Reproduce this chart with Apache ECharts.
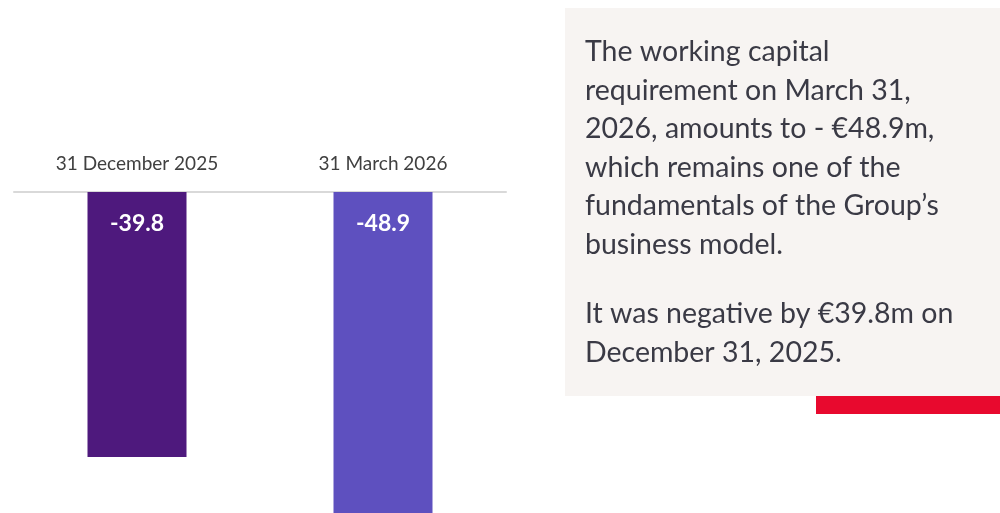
<!DOCTYPE html>
<html>
<head>
<meta charset="utf-8">
<script src="https://cdn.jsdelivr.net/npm/echarts@6/dist/echarts.min.js"></script>
<style>
  html, body { margin: 0; padding: 0; background: #ffffff; }
  #chart { width: 1000px; height: 513px; }
</style>
</head>
<body>
<div id="chart"></div>
<script>
// Working capital requirement (€m) at two closing dates
const categories = ['31 December 2025', '31 March 2026'];
const values = [-39.8, -48.9];
const barColors = ['#4E197D', '#5E50BF'];

const commentLines = [
  'The working capital',
  'requirement on March 31,',
  '2026, amounts to - €48.9m,',
  'which remains one of the',
  'fundamentals of the Group’s',
  'business model.'
];
const commentLines2 = [
  'It was negative by €39.8m on',
  'December 31, 2025.'
];

const FONT = 'Lato, "Noto Sans", sans-serif';

const chart = echarts.init(document.getElementById('chart'), null, { renderer: 'canvas' });

chart.setOption({
  animation: false,
  backgroundColor: '#ffffff',
  grid: { left: 14, top: 192, width: 492, bottom: 0, containLabel: false },
  xAxis: {
    type: 'category',
    position: 'top',
    data: categories,
    axisLine: { show: true, onZero: false, lineStyle: { color: '#D9D9D9', width: 2 } },
    axisTick: { show: false },
    axisLabel: { color: '#404040', fontFamily: FONT, fontSize: 19, margin: 19 },
    splitLine: { show: false }
  },
  yAxis: {
    type: 'value',
    min: -48.2,
    max: 0,
    show: false,
    splitLine: { show: false }
  },
  series: [{
    type: 'bar',
    barWidth: 99,
    clip: true,
    data: values.map((v, i) => ({ value: v, itemStyle: { color: barColors[i] } })),
    label: {
      show: true,
      position: 'insideTop',
      distance: 20,
      color: '#ffffff',
      fontFamily: FONT,
      fontWeight: 'bold',
      fontSize: 23,
      formatter: p => p.value.toFixed(1)
    }
  }],
  graphic: [
    {
      type: 'rect',
      shape: { x: 565, y: 8, width: 435, height: 388 },
      style: { fill: '#F7F4F2' },
      silent: true
    },
    {
      type: 'rect',
      shape: { x: 816, y: 396, width: 184, height: 18 },
      style: { fill: '#E8092E' },
      silent: true
    },
    {
      type: 'text',
      x: 585,
      y: 33,
      style: {
        text: commentLines.join('\n'),
        fill: '#3A3A45',
        font: '28.5px ' + FONT,
        lineHeight: 38.5
      },
      silent: true
    },
    {
      type: 'text',
      x: 585,
      y: 295,
      style: {
        text: commentLines2.join('\n'),
        fill: '#3A3A45',
        font: '28.5px ' + FONT,
        lineHeight: 38.5
      },
      silent: true
    }
  ]
});
</script>
</body>
</html>
